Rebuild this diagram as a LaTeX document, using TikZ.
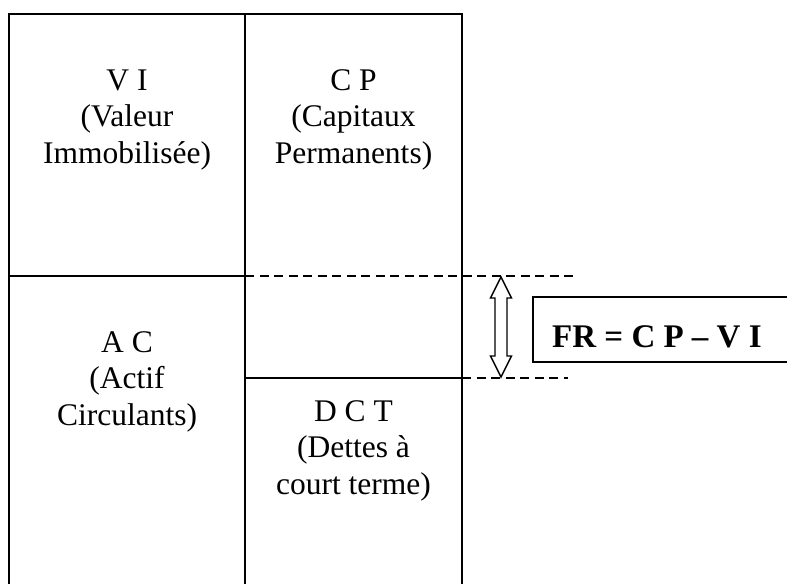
\documentclass[tikz,border=0pt]{standalone}
\usepackage{fontspec}
\setmainfont{Liberation Serif}
\begin{document}
\begin{tikzpicture}[x=1pt,y=-1pt,
  frame/.style={line width=1.6pt},
  guide/.style={line width=1.4pt, dash pattern=on 9pt off 5.5pt},
  label/.style={align=center, anchor=base, inner sep=0pt,
    font=\fontsize{31.5}{36.5}\selectfont},
  result/.style={anchor=base west, inner sep=0pt,
    font=\fontsize{33}{36}\selectfont\bfseries}]
  \useasboundingbox (0,0) rectangle (787,584);
  % balance sheet frame
  \draw[frame] (9,584) -- (9,14) -- (462,14) -- (462,584);
  \draw[frame] (245,14) -- (245,584);
  \draw[frame] (9,276) -- (245,276);
  \draw[frame] (245,378) -- (462,378);
  % dashed guides marking the working capital band
  \draw[guide] (245,276) -- (575,276);
  \draw[guide] (462,378) -- (568,378);
  % hollow double arrow
  \draw[line width=1.4pt, fill=white, line join=miter]
    (501,277) -- (511.5,298) -- (507,298) -- (507,356) -- (511.5,356)
    -- (501,377) -- (490.5,356) -- (495,356) -- (495,298) -- (490.5,298) -- cycle;
  % formula box
  \draw[line width=2.6pt] (800,297) -- (533,297) -- (533,362) -- (800,362);
  \node[result] (fr) at (552,347) {FR = C P – V I};
  % cell labels (anchored at the baseline of their last line)
  \node[label] (vi) at (127,163) {V I\\(Valeur\\Immobilisée)};
  \node[label] (cp) at (353.5,163) {C P\\(Capitaux\\Permanents)};
  \node[label] (ac) at (127,425) {A C\\(Actif\\Circulants)};
  \node[label] (dct) at (353.5,494) {D C T\\(Dettes à\\court terme)};
\end{tikzpicture}
\end{document}
